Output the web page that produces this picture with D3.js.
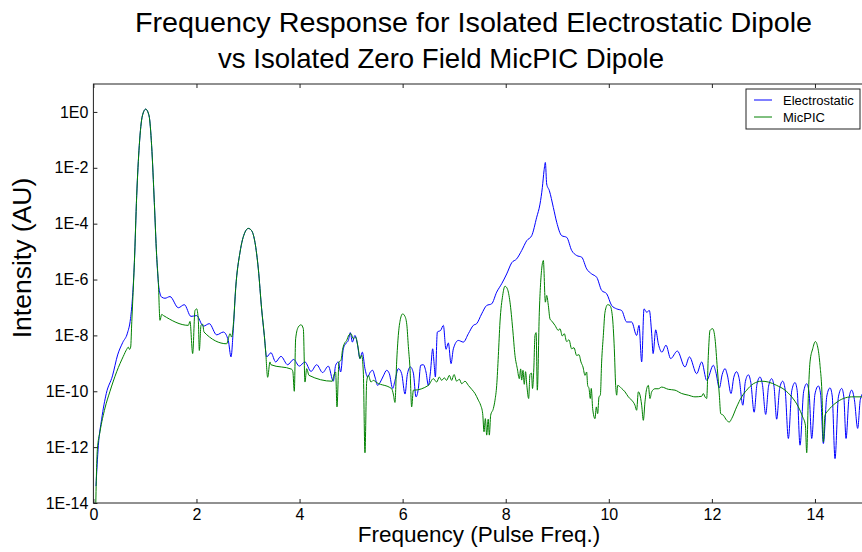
<!DOCTYPE html>
<html>
<head>
<meta charset="utf-8">
<script src="https://cdn.jsdelivr.net/npm/d3@7"></script>
<style>
  html, body { margin: 0; padding: 0; background: #fff; overflow: hidden; }
  svg { display: block; font-family: "Liberation Sans", Arial, Helvetica, sans-serif; }
</style>
</head>
<body>
<svg id="chart" width="862" height="552"></svg>
<script>
// Spectra: [frequency in units of the pulse frequency, log10 of intensity (AU)]
const electrostatic = [
  [0.05,-13.4],[0.096,-11.95],[0.16,-11.0],[0.25,-10.08],[0.37,-9.45],[0.47,-8.7],[0.57,-8.25],
  [0.66,-7.92],[0.72,-7.4],[0.76,-6.6],[0.795,-5.4],[0.84,-3.0],[0.89,-1.21],[0.95,-0.14],
  [1.015,0.1],[1.08,-0.14],[1.13,-1.21],[1.182,-3.24],[1.227,-5.14],[1.26,-6.1],[1.30,-6.55],
  [1.325,-6.63],[1.389,-6.67],[1.486,-6.61],[1.648,-7.01],[1.764,-6.9],[1.893,-7.32],[2.004,-7.29],
  [2.133,-7.67],[2.249,-7.58],[2.392,-7.98],[2.522,-7.88],[2.617,-8.18],[2.67,-8.77],[2.715,-7.76],
  [2.76,-6.33],[2.845,-5.02],[2.94,-4.31],[3.006,-4.17],[3.07,-4.25],[3.135,-4.67],[3.2,-5.62],
  [3.264,-7.05],[3.316,-8.0],[3.361,-8.77],[3.445,-8.62],[3.536,-8.95],[3.639,-8.75],[3.769,-9.05],
  [3.885,-8.86],[3.995,-9.1],[4.105,-8.95],[4.222,-9.29],[4.332,-9.05],[4.448,-9.33],[4.558,-9.1],
  [4.655,-9.64],[4.70,-9.07],[4.752,-8.95],[4.797,-9.31],[4.849,-8.48],[4.894,-8.3],[4.946,-8.18],
  [4.985,-7.9],[5.024,-8.24],[5.075,-8.0],[5.121,-8.3],[5.172,-8.83],[5.218,-8.6],[5.269,-9.19],
  [5.321,-9.49],[5.373,-9.31],[5.418,-9.25],[5.463,-9.49],[5.515,-9.79],[5.567,-9.67],[5.626,-9.45],
  [5.69,-9.25],[5.742,-9.37],[5.807,-9.9],[5.852,-9.61],[5.917,-9.19],[5.981,-9.37],[6.046,-10.1],
  [6.091,-9.4],[6.15,-9.13],[6.208,-9.35],[6.259,-10.2],[6.305,-9.9],[6.35,-9.07],[6.402,-9.05],
  [6.453,-9.31],[6.499,-9.79],[6.54,-9.3],[6.583,-8.48],[6.61,-9.0],[6.635,-9.49],[6.673,-7.88],
  [6.738,-7.82],[6.79,-7.64],[6.841,-8.5],[6.887,-8.27],[6.939,-9.01],[6.984,-8.48],[7.081,-8.18],
  [7.178,-8.24],[7.275,-7.94],[7.372,-7.64],[7.436,-7.58],[7.533,-7.23],[7.63,-6.93],[7.727,-6.87],
  [7.825,-6.45],[7.922,-6.15],[8.019,-5.8],[8.116,-5.4],[8.213,-5.26],[8.31,-4.96],[8.407,-4.61],
  [8.504,-4.43],[8.601,-3.77],[8.665,-3.3],[8.711,-2.7],[8.743,-2.11],[8.769,-1.81],[8.795,-2.58],
  [8.847,-2.82],[8.924,-3.42],[8.989,-3.95],[9.086,-4.43],[9.183,-4.49],[9.28,-4.96],[9.377,-5.14],
  [9.474,-5.2],[9.571,-5.62],[9.668,-5.8],[9.765,-5.92],[9.862,-6.39],[9.959,-6.51],[10.056,-6.93],
  [10.153,-7.05],[10.25,-7.11],[10.347,-7.52],[10.444,-7.52],[10.54,-8.0],[10.586,-7.64],[10.638,-8.95],
  [10.683,-7.05],[10.735,-7.17],[10.787,-7.11],[10.832,-7.94],[10.86,-8.65],[10.91,-7.8],[10.961,-8.3],
  [11.03,-8.6],[11.11,-8.35],[11.2,-8.83],[11.33,-8.56],[11.478,-9.13],[11.565,-8.77],[11.705,-9.37],
  [11.802,-8.95],[11.9,-9.61],[12.028,-9.07],[12.075,-9.3],[12.145,-9.88],[12.2,-9.4],[12.255,-9.19],
  [12.3,-9.42],[12.371,-10.08],[12.425,-9.5],[12.481,-9.3],[12.53,-9.55],[12.6,-10.5],[12.65,-9.65],
  [12.708,-9.41],[12.755,-9.68],[12.82,-10.75],[12.875,-9.75],[12.934,-9.49],[12.98,-9.75],
  [13.044,-10.83],[13.1,-9.82],[13.16,-9.55],[13.205,-9.82],[13.257,-11.0],[13.315,-9.9],
  [13.374,-9.64],[13.42,-9.92],[13.484,-11.69],[13.55,-9.98],[13.613,-9.69],[13.655,-9.98],
  [13.71,-11.93],[13.78,-10.02],[13.84,-9.73],[13.885,-10.03],[13.937,-11.69],[14.0,-10.1],
  [14.066,-9.81],[14.11,-10.1],[14.163,-11.87],[14.23,-10.17],[14.292,-9.88],[14.335,-10.17],
  [14.389,-12.41],[14.455,-10.2],[14.519,-9.9],[14.56,-10.2],[14.603,-11.69],[14.66,-10.25],
  [14.713,-9.96],[14.765,-10.3],[14.829,-11.33],[14.88,-10.3],[14.95,-10.02]
];

const micpic = [
  [0.04,-14.6],[0.076,-12.1],[0.128,-11.45],[0.225,-10.6],[0.322,-10.0],[0.452,-9.3],[0.58,-8.75],
  [0.646,-8.5],[0.677,-8.42],[0.70,-8.5],[0.723,-8.42],[0.745,-7.5],[0.762,-6.8],[0.795,-5.4],
  [0.84,-3.0],[0.89,-1.21],[0.95,-0.14],[1.015,0.1],[1.08,-0.14],[1.13,-1.21],[1.182,-3.24],
  [1.227,-5.14],[1.26,-6.1],[1.292,-7.46],[1.325,-7.25],[1.36,-7.29],[1.842,-7.64],[1.874,-7.5],
  [1.926,-8.65],[1.971,-7.11],[2.004,-7.05],[2.036,-7.46],[2.055,-8.54],[2.088,-7.64],[2.12,-7.6],
  [2.146,-7.88],[2.586,-8.3],[2.618,-8.12],[2.65,-7.94],[2.683,-8.06],[2.72,-7.5],[2.76,-6.33],
  [2.845,-5.02],[2.94,-4.31],[3.006,-4.17],[3.07,-4.25],[3.135,-4.67],[3.2,-5.62],[3.264,-7.05],
  [3.316,-8.0],[3.343,-8.6],[3.381,-9.5],[3.426,-8.95],[3.445,-9.05],[3.846,-9.21],[3.87,-9.3],
  [3.898,-10.0],[3.924,-8.12],[3.976,-7.7],[4.028,-7.62],[4.073,-7.76],[4.105,-9.67],[4.138,-9.19],
  [4.183,-9.43],[4.635,-9.64],[4.67,-9.4],[4.7,-9.31],[4.726,-10.56],[4.765,-8.95],[4.804,-8.89],
  [4.835,-8.5],[4.868,-8.3],[4.914,-8.18],[4.959,-7.98],[4.998,-7.94],[5.043,-8.12],[5.088,-8.06],
  [5.14,-8.48],[5.172,-8.83],[5.205,-8.71],[5.237,-9.31],[5.269,-12.2],[5.302,-9.67],[5.334,-9.43],
  [5.386,-9.67],[5.431,-9.61],[5.496,-9.69],[5.787,-9.91],[5.819,-10.1],[5.851,-10.4],[5.884,-8.95],
  [5.916,-8.0],[5.948,-7.5],[6.0,-7.23],[6.04,-7.3],[6.08,-7.6],[6.111,-8.4],[6.143,-9.19],
  [6.175,-10.56],[6.208,-9.96],[6.221,-9.96],[6.499,-9.79],[6.596,-9.55],[6.66,-9.67],[6.712,-9.49],
  [6.757,-9.61],[6.809,-9.52],[6.854,-9.61],[6.906,-9.43],[6.951,-9.61],[6.997,-9.4],[7.048,-9.64],
  [7.1,-9.57],[7.146,-9.73],[7.21,-9.64],[7.275,-9.79],[7.34,-9.93],[7.404,-10.08],[7.469,-10.32],
  [7.514,-10.5],[7.553,-10.8],[7.579,-11.45],[7.605,-10.98],[7.631,-11.57],[7.66,-11.0],[7.682,-11.57],
  [7.708,-10.86],[7.76,-10.62],[7.792,-10.32],[7.825,-9.79],[7.857,-8.72],[7.889,-7.52],[7.941,-6.57],
  [7.986,-6.24],[8.031,-6.33],[8.083,-6.81],[8.135,-7.76],[8.18,-8.72],[8.225,-9.19],[8.264,-9.55],
  [8.29,-9.2],[8.31,-9.6],[8.335,-9.25],[8.36,-9.75],[8.385,-9.3],[8.41,-9.8],[8.445,-10.26],
  [8.47,-9.4],[8.5,-9.35],[8.52,-9.9],[8.545,-9.2],[8.568,-8.0],[8.59,-7.9],[8.613,-9.96],
  [8.652,-7.17],[8.698,-5.62],[8.73,-5.32],[8.769,-6.81],[8.795,-6.57],[8.827,-6.93],[8.859,-7.41],
  [8.9,-7.5],[8.956,-7.64],[9.021,-7.82],[9.053,-7.76],[9.098,-8.02],[9.137,-7.94],[9.182,-8.22],
  [9.228,-8.16],[9.279,-8.48],[9.325,-8.44],[9.376,-8.72],[9.422,-8.69],[9.46,-8.95],[9.499,-9.13],
  [9.538,-9.43],[9.57,-9.31],[9.59,-9.79],[9.616,-9.9],[9.641,-10.26],[9.66,-9.9],[9.687,-10.62],
  [9.732,-10.98],[9.758,-10.56],[9.784,-10.8],[9.81,-10.2],[9.836,-10.14],[9.861,-8.95],[9.894,-8.0],
  [9.926,-7.17],[9.978,-6.9],[10.023,-6.93],[10.068,-7.29],[10.107,-8.48],[10.133,-9.79],
  [10.153,-10.14],[10.172,-9.79],[10.249,-9.9],[10.314,-10.02],[10.379,-10.2],[10.444,-10.32],
  [10.508,-10.5],[10.54,-10.68],[10.573,-10.02],[10.6,-10.1],[10.638,-10.5],[10.67,-11.04],
  [10.702,-10.38],[10.735,-9.91],[10.767,-9.79],[10.799,-10.26],[10.832,-10.02],[10.896,-9.91],
  [10.961,-9.91],[11.026,-9.85],[11.155,-9.93],[11.284,-9.96],[11.414,-10.08],[11.543,-10.14],
  [11.672,-10.2],[11.802,-10.18],[11.834,-10.08],[11.866,-10.2],[11.899,-10.26],[11.931,-8.72],
  [11.964,-7.82],[12.016,-7.76],[12.061,-8.12],[12.106,-9.19],[12.145,-10.14],[12.171,-10.8],
  [12.223,-10.86],[12.287,-11.04],[12.339,-11.1],[12.384,-10.98],[12.481,-10.56],[12.578,-10.2],
  [12.675,-9.96],[12.805,-9.73],[12.966,-9.64],[13.096,-9.67],[13.257,-9.79],[13.419,-9.96],
  [13.548,-10.2],[13.678,-10.56],[13.762,-10.92],[13.814,-11.21],[13.84,-12.2],[13.872,-10.14],
  [13.904,-8.95],[13.956,-8.48],[14.008,-8.22],[14.06,-8.48],[14.098,-9.07],[14.137,-10.14],
  [14.163,-11.81],[14.195,-10.86],[14.26,-10.68],[14.389,-10.44],[14.551,-10.26],[14.713,-10.2],
  [14.95,-10.2]
];

const xTickValues = [0, 2, 4, 6, 8, 10, 12, 14];
const yTickExponents = [0, -2, -4, -6, -8, -10, -12, -14];
const yTickLabels = ["1E0", "1E-2", "1E-4", "1E-6", "1E-8", "1E-10", "1E-12", "1E-14"];
const titleLines = ["Frequency Response for Isolated Electrostatic Dipole",
                    "vs Isolated Zero Field MicPIC Dipole"];
const seriesNames = ["Electrostatic", "MicPIC"];
const seriesColors = ["#0000ff", "#008000"];
const xLabel = "Frequency (Pulse Freq.)";
const yLabel = "Intensity (AU)";

const svg = d3.select("#chart");
const box = { left: 93.4, right: 866.5, top: 84, bottom: 503 };

const x = d3.scaleLinear().domain([0, 15]).range([box.left, box.right]);
const y = d3.scaleLog().domain([1e-14, 1e1]).range([box.bottom, box.top]);

svg.append("defs").append("clipPath").attr("id", "plot-clip")
  .append("rect")
  .attr("x", box.left).attr("y", box.top)
  .attr("width", box.right - box.left).attr("height", box.bottom - box.top);

// traces
const line = d3.line()
  .x(d => x(d[0]))
  .y(d => y(Math.pow(10, d[1])))
  .curve(d3.curveMonotoneX);

const traces = svg.append("g").attr("clip-path", "url(#plot-clip)");
[electrostatic, micpic].forEach((series, i) => {
  traces.append("path")
    .datum(series)
    .attr("fill", "none")
    .attr("stroke", seriesColors[i])
    .attr("stroke-width", 1)
    .attr("stroke-linejoin", "round")
    .attr("d", line);
});

// axes with inward ticks on all four sides
const yTickVals = yTickExponents.map(e => Math.pow(10, e));
const yFmt = v => yTickLabels[yTickVals.indexOf(v)];

const styleAxis = g => {
  g.select(".domain").remove();
  g.selectAll(".tick line").attr("stroke", "#222");
  g.selectAll(".tick text").attr("fill", "#000").attr("font-size", 16)
    .attr("font-family", "\"Liberation Sans\", Arial, sans-serif");
};

svg.append("g").attr("transform", `translate(0,${box.bottom})`)
  .call(d3.axisBottom(x).tickValues(xTickValues).tickFormat(d3.format("d"))
    .tickSizeInner(-4).tickSizeOuter(0).tickPadding(6))
  .call(styleAxis);

svg.append("g").attr("transform", `translate(0,${box.top})`)
  .call(d3.axisTop(x).tickValues(xTickValues).tickFormat("")
    .tickSizeInner(-4).tickSizeOuter(0))
  .call(styleAxis);

svg.append("g").attr("transform", `translate(${box.left},0)`)
  .call(d3.axisLeft(y).tickValues(yTickVals).tickFormat(yFmt)
    .tickSizeInner(-4).tickSizeOuter(0).tickPadding(5))
  .call(styleAxis);

svg.append("g").attr("transform", `translate(${box.right},0)`)
  .call(d3.axisRight(y).tickValues(yTickVals).tickFormat("")
    .tickSizeInner(-4).tickSizeOuter(0))
  .call(styleAxis);

// frame
svg.append("rect")
  .attr("x", box.left).attr("y", box.top)
  .attr("width", box.right - box.left).attr("height", box.bottom - box.top)
  .attr("fill", "none").attr("stroke", "#222").attr("stroke-width", 1);

// two-line title
const titleCenters = [473.5, 441];
const titleBaselines = [32, 68];
const titleWidths = [677, 446];
titleLines.forEach((t, i) => {
  svg.append("text")
    .attr("x", titleCenters[i]).attr("y", titleBaselines[i])
    .attr("text-anchor", "middle").attr("font-size", 28).attr("fill", "#000")
    .attr("textLength", titleWidths[i]).attr("lengthAdjust", "spacingAndGlyphs")
    .text(t);
});

// axis labels
svg.append("text")
  .attr("x", (box.left + box.right) / 2 - 1).attr("y", 542)
  .attr("text-anchor", "middle").attr("font-size", 22.5).attr("fill", "#000")
  .text(xLabel);

svg.append("text")
  .attr("transform", "translate(31,258) rotate(-90)")
  .attr("text-anchor", "middle").attr("font-size", 26.5).attr("fill", "#000")
  .text(yLabel);

// legend
const legend = svg.append("g");
legend.append("rect")
  .attr("x", 746).attr("y", 89).attr("width", 114).attr("height", 40)
  .attr("fill", "#fff").attr("stroke", "#222").attr("stroke-width", 1);
seriesNames.forEach((name, i) => {
  const cy = 100 + i * 17;
  legend.append("line")
    .attr("x1", 754).attr("x2", 772).attr("y1", cy).attr("y2", cy)
    .attr("stroke", seriesColors[i]).attr("stroke-width", 1);
  legend.append("text")
    .attr("x", 783).attr("y", cy + 4.5)
    .attr("font-size", 13).attr("fill", "#000")
    .text(name);
});
</script>
</body>
</html>
